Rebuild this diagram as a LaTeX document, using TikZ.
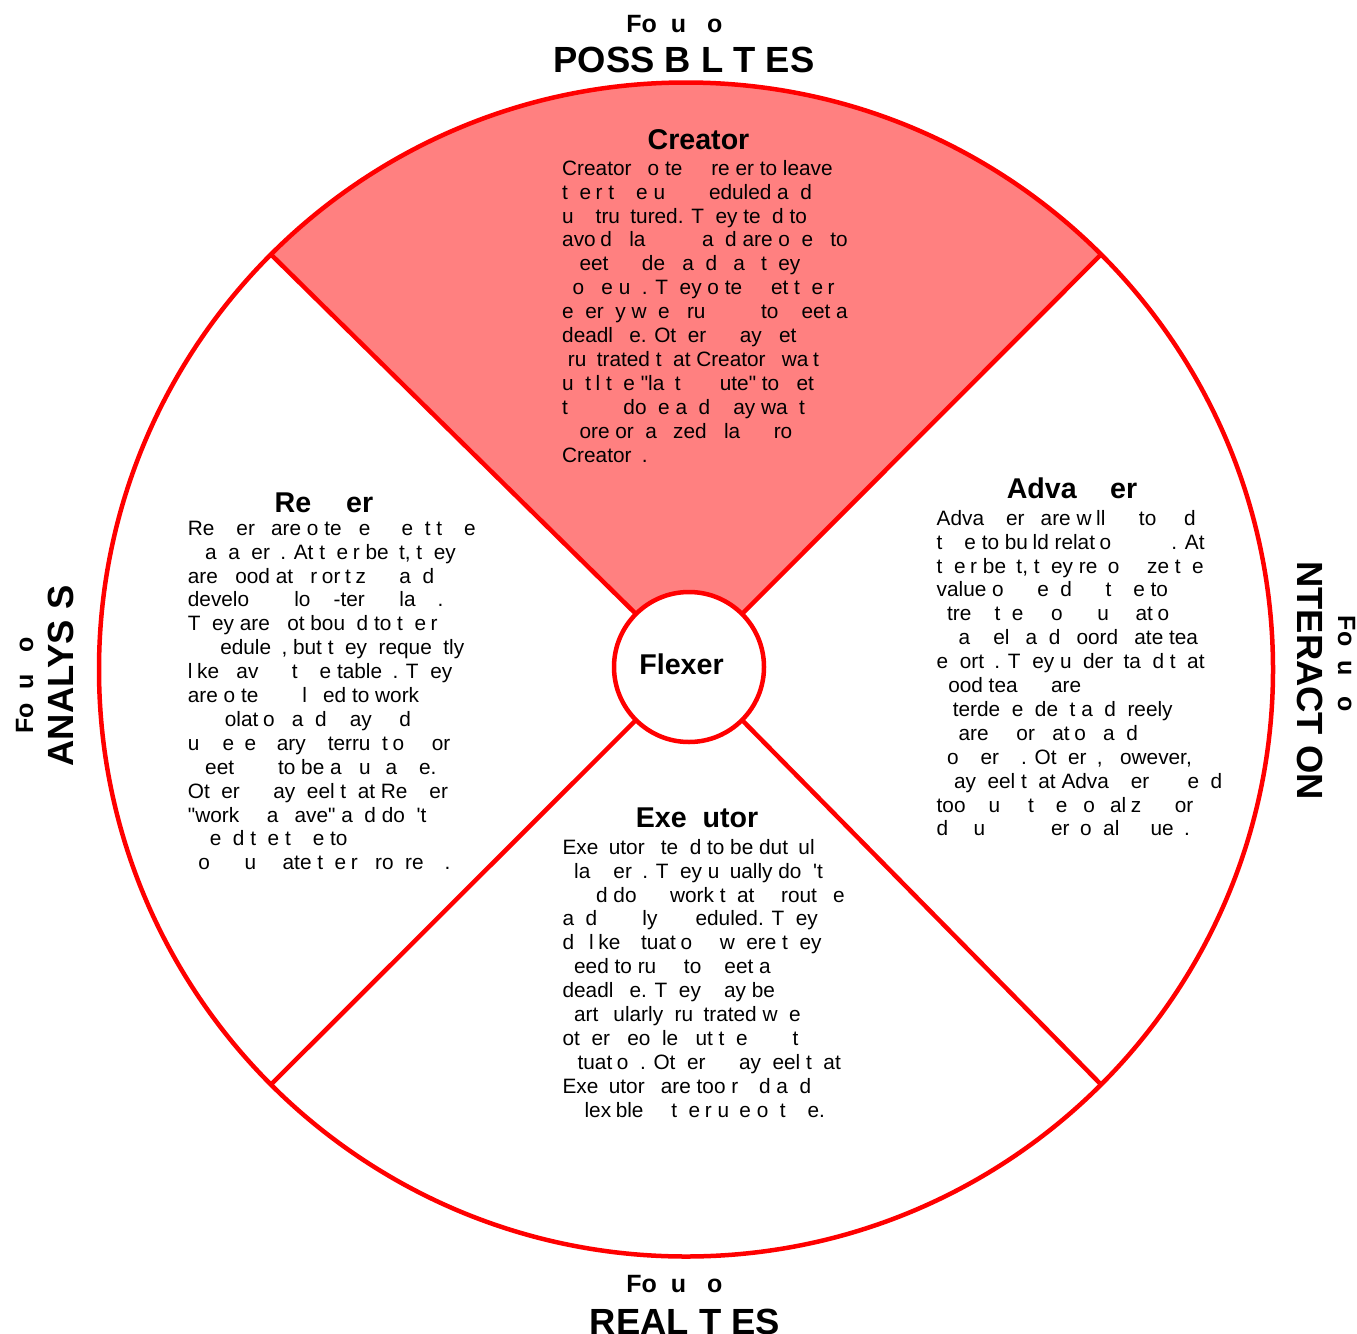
\documentclass[tikz,border=0pt]{standalone}
\usepackage{fontspec}
\setmainfont{Liberation Sans}[Ligatures=TeXOff]
\usetikzlibrary{backgrounds}
\definecolor{linered}{HTML}{FF0000}
\definecolor{sectorfill}{HTML}{FF8080}
\ExplSyntaxOn
\cs_new:Npn \rs_ghost_char:n #1
  {
    \str_case:nnF {#1}
      {
        {c}{\phantom{c}}
        {f}{\phantom{f}}
        {g}{\phantom{g}}
        {h}{\phantom{h}}
        {i}{\phantom{i}}
        {m}{\phantom{m}}
        {n}{\phantom{n}}
        {p}{\phantom{p}}
        {s}{\phantom{s}}
        {I}{\phantom{I}}
      }
      {#1}
  }
\NewDocumentCommand \gh { m } { \str_map_function:nN {#1} \rs_ghost_char:n }
\ExplSyntaxOff
\tikzset{
  bodytext/.style={font=\fontsize{20.8}{23.9}\selectfont, align=left, anchor=north west, inner sep=0pt},
  sectitle/.style={font=\fontsize{28.6}{34}\selectfont\bfseries, anchor=base, inner sep=0pt},
  focuslabel/.style={font=\fontsize{25}{30}\selectfont\bfseries, anchor=base, inner sep=0pt},
  themelabel/.style={font=\fontsize{36.4}{44}\selectfont\bfseries, anchor=base, inner sep=0pt},
  redline/.style={draw=linered, line width=4.5pt},
  ringnode/.style={circle, draw=linered, line width=4.5pt, inner sep=0pt, outer sep=0pt},
}
\newcommand{\firststrut}{\rule{0pt}{20pt}}
\begin{document}
\begin{tikzpicture}[x=1pt,y=1pt]
\useasboundingbox (0,0) rectangle (1357,-1333);
% rings
\node[ringnode, minimum size=1174pt] (outer) at (686,-669.5) {};
\node[ringnode, minimum size=150pt, fill=white] (flexer) at (689,-667) {};
% top sector
\begin{scope}[on background layer]
  \fill[white] (0,0) rectangle (1357,-1333);
  \fill[sectorfill] (outer.135) arc[start angle=135, end angle=45, radius=587pt]
    -- (flexer.45) arc[start angle=45, end angle=135, radius=75pt] -- cycle;
\end{scope}
% dividers
\draw[redline] (outer.45) -- (flexer.45);
\draw[redline] (outer.135) -- (flexer.135);
\draw[redline] (outer.225) -- (flexer.225);
\draw[redline] (outer.315) -- (flexer.315);
% centre label
\node[sectitle] (flexerlabel) at (681.5,-674) {\gh{Flexer}};
% outside labels
\node[focuslabel] (topfocus) at (682,-32) {\gh{Focus on}};
\node[themelabel] (toptheme) at (684,-72) {\gh{POSSIBILITIES}};
\node[focuslabel] (botfocus) at (682,-1292) {\gh{Focus on}};
\node[themelabel] (bottheme) at (685,-1334) {\gh{REALITIES}};
\node[focuslabel, rotate=90] (leftfocus) at (33,-678) {\gh{Focus on}};
\node[themelabel, rotate=90] (lefttheme) at (73,-676) {\gh{ANALYSIS}};
\node[focuslabel, rotate=-90] (rightfocus) at (1338,-671.5) {\gh{Focus on}};
\node[themelabel, rotate=-90] (righttheme) at (1297,-675.5) {\gh{INTERACTION}};
% Creator
\node[sectitle] (creatortitle) at (698.5,-149) {\gh{Creator}};
\node[bodytext] (creatortext) at (562,-155) {\firststrut\gh{Creators often prefer to leave}\\
\gh{their time unscheduled and}\\
\gh{unstructured. They tend to}\\
\gh{avoid planning and are open to}\\
\gh{meeting demands as they}\\
\gh{come up. They often get their}\\
\gh{energy when rushing to meet a}\\
\gh{deadline. Others may get}\\
\gh{frustrated that Creators wait}\\
\gh{until the "last minute" to get}\\
\gh{things done and may want}\\
\gh{more organized plans from}\\
\gh{Creators.}};
% Refiner
\node[sectitle] (refinertitle) at (324,-512) {\gh{Refiner}};
\node[bodytext] (refinertext) at (187.7,-515) {\firststrut\gh{Refiners are often efficient time}\\
\gh{managers. At their best, they}\\
\gh{are good at prioritizing and}\\
\gh{developing long-term plans.}\\
\gh{They are not bound to their}\\
\gh{schedules, but they frequently}\\
\gh{like having time tables. They}\\
\gh{are often inclined to work}\\
\gh{in isolation and may find}\\
\gh{unnecessary interruptions or}\\
\gh{meetings to be a nuisance.}\\
\gh{Others may feel that Refiners}\\
\gh{"work in a cave" and don't}\\
\gh{spend the time to}\\
\gh{communicate their progress.}};
% Advancer
\node[sectitle] (advancertitle) at (1072,-498) {\gh{Advancer}};
\node[bodytext] (advancertext) at (936.5,-505) {\firststrut\gh{Advancers are willing to find}\\
\gh{time to build relationships. At}\\
\gh{their best, they recognize the}\\
\gh{value of spending time to}\\
\gh{strengthen communication}\\
\gh{channels and coordinate team}\\
\gh{efforts. They understand that}\\
\gh{good teams are}\\
\gh{interdependent and freely}\\
\gh{share information and}\\
\gh{concerns. Others, however,}\\
\gh{may feel that Advancers spend}\\
\gh{too much time socializing or}\\
\gh{discussing personal issues.}};
% Executor
\node[sectitle] (executortitle) at (697,-827) {\gh{Executor}};
\node[bodytext] (executortext) at (562.4,-834) {\firststrut\gh{Executors tend to be dutiful}\\
\gh{planners. They usually don't}\\
\gh{mind doing work that is routine}\\
\gh{and highly scheduled. They}\\
\gh{dislike situations where they}\\
\gh{need to rush to meet a}\\
\gh{deadline. They may be}\\
\gh{particularly frustrated when}\\
\gh{other people put them in this}\\
\gh{situation. Others may feel that}\\
\gh{Executors are too rigid and}\\
\gh{inflexible in their use of time.}};
\end{tikzpicture}
\end{document}
